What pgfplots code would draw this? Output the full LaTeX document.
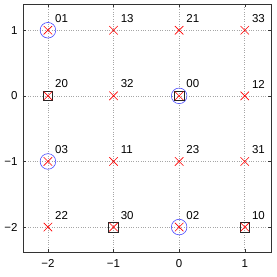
\documentclass[border=0pt]{standalone}
\usepackage{pgfplots}
\pgfplotsset{compat=1.18}
\usepackage{fontspec}
\setmainfont{Liberation Sans}
\begin{document}
\pgfplotstableread{
x y lab
-2 1 01
-1 1 13
0 1 21
1 1 33
-2 0 20
-1 0 32
0 0 00
1 0 12
-2 -1 03
-1 -1 11
0 -1 23
1 -1 31
-2 -2 22
-1 -2 30
0 -2 02
1 -2 10
}\pts
\begin{tikzpicture}
\begin{axis}[
  scale only axis, width=248pt, height=248pt,
  xmin=-2.38, xmax=1.40, ymin=-2.38, ymax=1.40,
  xtick={-2,-1,0,1}, ytick={-2,-1,0,1},
  grid=major, major grid style={gray!70, dotted, line width=0.6pt},
  tick align=inside, major tick length=3pt,
  tick style={black!80, line width=0.5pt},
  axis line style={black!80, line width=0.7pt},
  ticklabel style={font=\fontsize{11.5}{13}\selectfont},
  xticklabel style={yshift=-4pt},
  yticklabel style={xshift=-2pt},
  /pgf/number format/assume math mode=true,
  xticklabel={\ifdim\tick pt<0pt −\pgfmathparse{abs(\tick)}\pgfmathprintnumber{\pgfmathresult}\else\pgfmathprintnumber{\tick}\fi},
  yticklabel={\ifdim\tick pt<0pt −\pgfmathparse{abs(\tick)}\pgfmathprintnumber{\pgfmathresult}\else\pgfmathprintnumber{\tick}\fi},
  clip=false,
]
\addplot[only marks, mark=o, blue!70, mark size=7.8pt, line width=0.6pt] coordinates {(-2,1) (0,0) (-2,-1) (0,-2)};
\addplot[only marks, mark=square, black!85, mark size=4.8pt, line width=0.6pt] coordinates {(-2,0) (0,0) (-1,-2) (1,-2)};
\addplot[only marks, mark=x, red, mark size=6pt, line width=0.6pt,
  nodes near coords, point meta=explicit symbolic,
  every node near coord/.style={black, anchor=south west, inner sep=0pt, xshift=7pt, yshift=7.5pt, font=\fontsize{11.5}{13}\selectfont}]
  table[x=x, y=y, meta=lab] {\pts};
\end{axis}
\path ([shift={(-23pt,-25pt)}]current axis.south west) rectangle ([shift={(6pt,4pt)}]current axis.north east);
\end{tikzpicture}
\end{document}
